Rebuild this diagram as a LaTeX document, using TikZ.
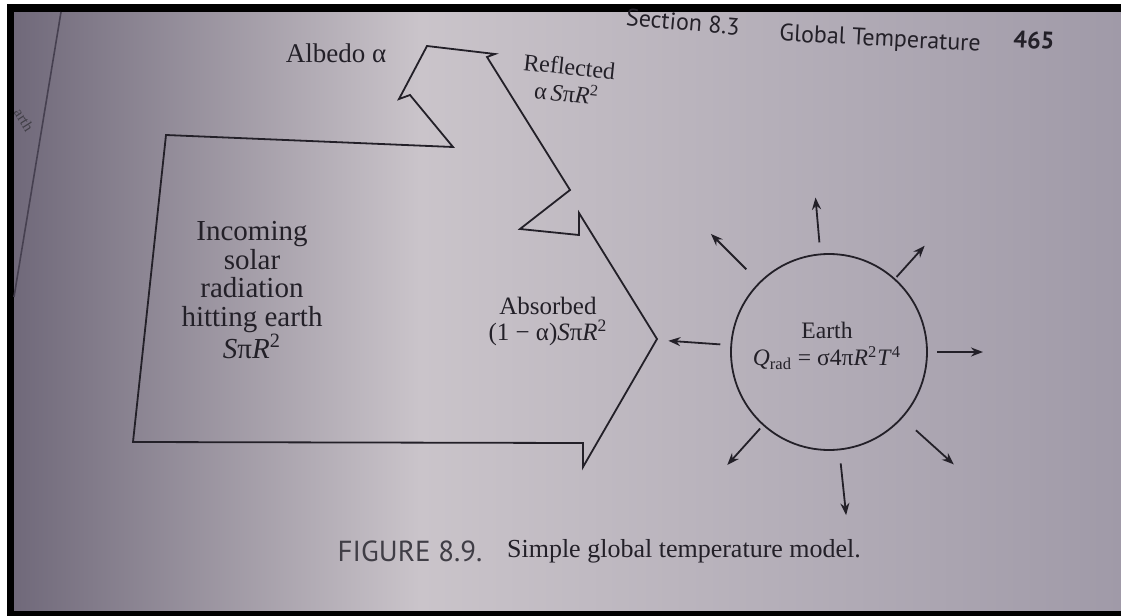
\documentclass[tikz,border=0pt]{standalone}
\usepackage{fontspec}
\setmainfont{Liberation Serif}
\newfontfamily\headfont{PT Sans}
\usetikzlibrary{arrows.meta,calc}

\definecolor{ink}{RGB}{35,32,40}
\definecolor{pageleft}{RGB}{112,105,122}
\definecolor{pagemid}{RGB}{202,196,202}
\definecolor{pageright}{RGB}{160,154,168}
\definecolor{gutter}{RGB}{70,64,80}
\definecolor{captiongray}{RGB}{64,62,70}

\begin{document}
\begin{tikzpicture}[x=0.5pt,y=-0.5pt,
  band/.style={draw=ink,line width=0.9pt,line join=miter},
  ray/.style={draw=ink,line width=0.9pt,-{Stealth[length=6pt,width=4.5pt]}},
  planet/.style={circle,draw=ink,line width=0.9pt,minimum size=98pt,inner sep=0pt},
  lbl/.style={text=ink,align=center,inner sep=0pt}]
\useasboundingbox (0,0) rectangle (1121,616);
% photo frame and page
\fill[white] (0,0) rectangle (1121,616);
\fill[black] (7,4) rectangle (1121,616);
\shade[left color=pageleft,right color=pagemid] (14,12) rectangle (420,610);
\shade[left color=pagemid,right color=pageright] (420,12) rectangle (1121,610);
% gutter of the facing page
\draw[gutter,line width=0.8pt] (61,12) -- (14,297);
\node[lbl,text=captiongray,font=\fontsize{7.5}{7.5}\selectfont,rotate=-58] (margin) at (24,120) {arth};
% running head
\node[lbl,font=\headfont\fontsize{12}{12}\selectfont,rotate=-5] (secno) at (683,22) {Section 8.3};
\node[lbl,font=\headfont\fontsize{12}{12}\selectfont,rotate=-3] (runhead) at (880,40) {Global Temperature};
\node[lbl,font=\headfont\bfseries\fontsize{12}{12}\selectfont,rotate=-3] (pageno) at (1034,40) {465};
% incoming band, split into reflected and absorbed parts
\draw[band] (166,135) -- (453,147) -- (410,95) -- (399,99) -- (427,46)
  -- (495,54) -- (487,57) -- (570,190) -- (520,229) -- (579,235)
  -- (579,213) -- (657,339) -- (583,467) -- (583,443) -- (133,442) -- cycle;
\node[lbl,font=\fontsize{13.5}{13.5}\selectfont] (albedo) at (336,53) {Albedo α};
\node[lbl,font=\fontsize{12}{13.5}\selectfont,rotate=-6] (reflected) at (568,80)
  {Reflected\\α\,\textit{S}π\textit{R}\textsuperscript{2}};
\node[lbl,font=\fontsize{14.5}{14.25}\selectfont] (incoming) at (252,290)
  {Incoming\\solar\\radiation\\hitting earth\\\textit{S}π\textit{R}\textsuperscript{2}};
\node[lbl,font=\fontsize{12.5}{13}\selectfont] (absorbed) at (548,321)
  {Absorbed\\(1 − α)\textit{S}π\textit{R}\textsuperscript{2}};
% earth and its outgoing radiation
\node[planet] (earth) at (829,352) {};
\node[lbl,font=\fontsize{11.8}{13.5}\selectfont] (earthlbl) at (827,346)
  {Earth\\\textit{Q}\textsubscript{rad} = σ4π\textit{R}\textsuperscript{2}\textit{T}\textsuperscript{4}};
% angles counted clockwise, y points down
\foreach \a/\ri/\ro in {-95/110/155,-135/117/167,-48/101/143,-176/109/161,
    0/108/154,132/103/152,42/117/168,84/112/164}
  \draw[ray] ($(earth.center)+(\a:\ri)$) -- ($(earth.center)+(\a:\ro)$);
% caption
\node[lbl,text=captiongray,font=\headfont\fontsize{14.5}{14.5}\selectfont] (fignum) at (410,551) {FIGURE 8.9.};
\node[lbl,font=\fontsize{13}{13}\selectfont] (caption) at (684,551) {Simple global temperature model.};
\end{tikzpicture}
\end{document}
